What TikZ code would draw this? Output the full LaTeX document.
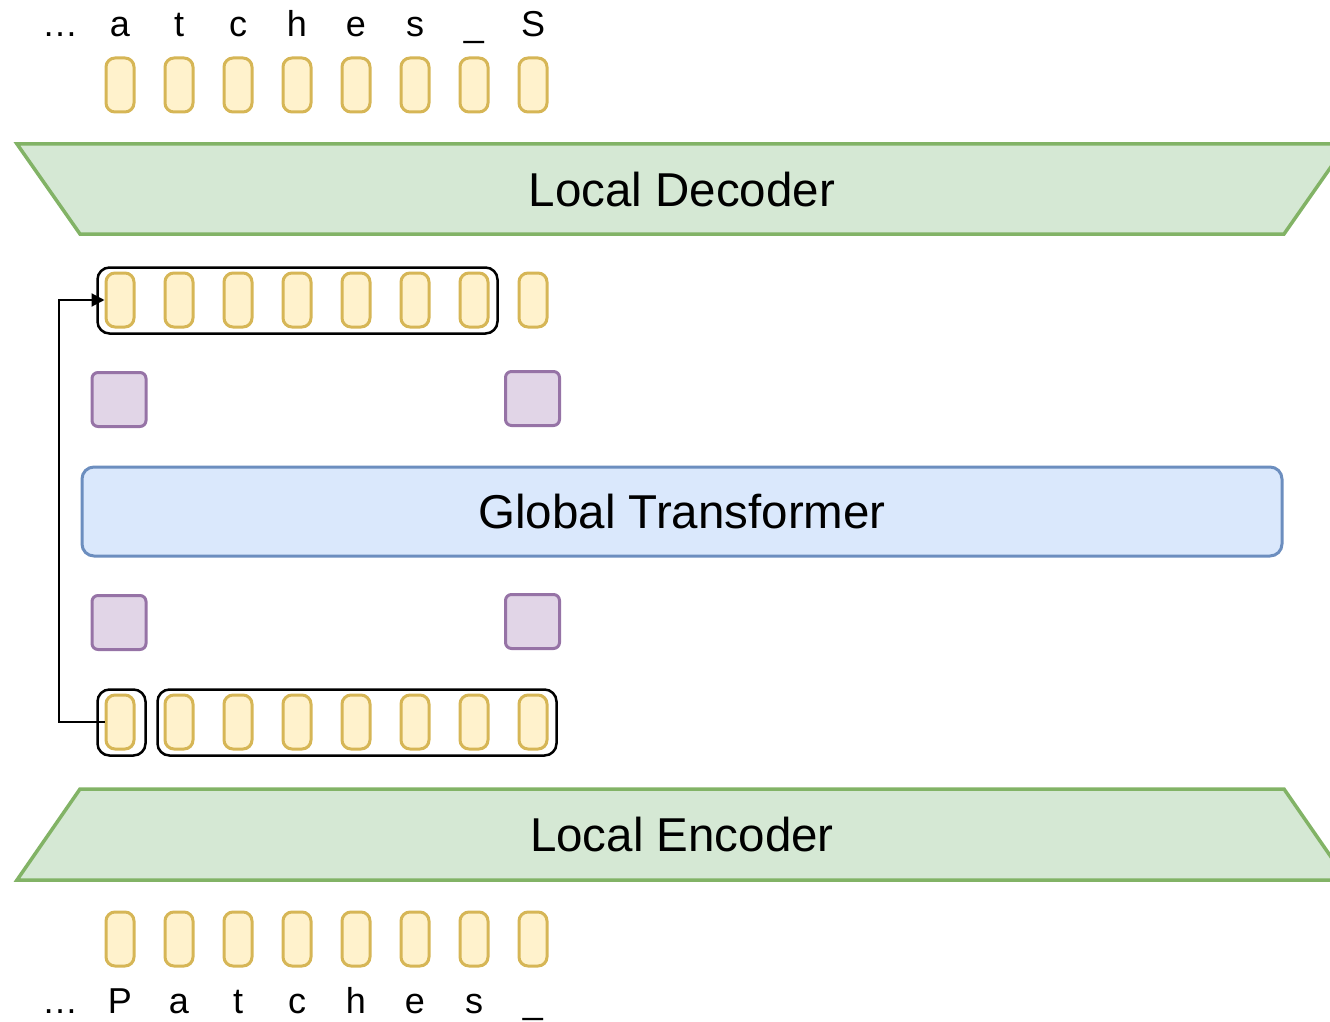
\documentclass[tikz,border=0pt]{standalone}
\usepackage{fontspec}
\setmainfont{Liberation Sans}
\usetikzlibrary{arrows.meta}
\definecolor{tokfill}{HTML}{FFF2CC}
\definecolor{tokdraw}{HTML}{D6B656}
\definecolor{grfill}{HTML}{D5E8D4}
\definecolor{grdraw}{HTML}{82B366}
\definecolor{blfill}{HTML}{DAE8FC}
\definecolor{bldraw}{HTML}{6C8EBF}
\definecolor{pufill}{HTML}{E1D5E7}
\definecolor{pudraw}{HTML}{9673A6}
\begin{document}
\begin{tikzpicture}[x=1pt,y=-1pt,
  token/.style={draw=tokdraw,fill=tokfill,line width=3pt,rounded corners=9pt,minimum width=28pt,minimum height=54pt,inner sep=0pt},
  patchemb/.style={draw=pudraw,fill=pufill,line width=3pt,rounded corners=6pt,minimum width=54pt,minimum height=54pt,inner sep=0pt},
  groupbox/.style={draw=black,line width=2.5pt,rounded corners=12pt,inner sep=0pt},
  letter/.style={font=\fontsize{36}{40}\selectfont,anchor=base,inner sep=0pt},
  big/.style={font=\fontsize{47.5}{56}\selectfont,inner sep=0pt},
  trap/.style={draw=grdraw,fill=grfill,line width=3.5pt,line join=miter},
  conn/.style={draw=black,line width=2pt,-{Triangle[length=13pt,width=13pt]}}]

\useasboundingbox (0,0) rectangle (1330,1022);
\clip (0,0) rectangle (1330,1022);

% Local Decoder
\draw[trap] (17,144) -- (1347,144) -- (1284,234) -- (80,234) -- cycle;
\node[big] (dec) at (682,190) {Local Decoder};

% Local Encoder
\draw[trap] (80,789) -- (1284,789) -- (1347,880) -- (17,880) -- cycle;
\node[big] (enc) at (682,835) {Local Encoder};

% Global Transformer
\node[draw=bldraw,fill=blfill,line width=3pt,rounded corners=12pt,minimum width=1200pt,minimum height=89pt,font=\fontsize{47.5}{56}\selectfont,inner sep=0pt] (glob) at (682,511.5) {Global Transformer};

% group boxes
\node[groupbox,minimum width=400pt,minimum height=66pt] (gtop) at (297.5,300.5) {};
\node[groupbox,minimum width=48pt,minimum height=66pt] (gbs) at (121.5,722.5) {};
\node[groupbox,minimum width=399pt,minimum height=66pt] (gbl) at (357,722.5) {};

% tokens
\foreach \k in {1,...,8}{
  \pgfmathsetmacro{\xx}{120+59*(\k-1)}
  \node[token] (t\k) at (\xx,85) {};
  \node[token] (m\k) at (\xx,300) {};
  \node[token] (b\k) at (\xx,722) {};
  \node[token] (e\k) at (\xx,939) {};
}

% patch embeddings
\node[patchemb] (p1) at (119,399.5) {};
\node[patchemb] (p2) at (532.5,398.5) {};
\node[patchemb] (p3) at (119,622.5) {};
\node[patchemb] (p4) at (532.5,621.5) {};

% top letters
\node[letter] (tl0) at (60,37) {…};
\node[letter] (tl1) at (120,37) {a};
\node[letter] (tl2) at (179,37) {t};
\node[letter] (tl3) at (238,37) {c};
\node[letter] (tl4) at (297,37) {h};
\node[letter] (tl5) at (356,37) {e};
\node[letter] (tl6) at (415,37) {s};
\node[letter] (tl7) at (474,37) {\_};
\node[letter] (tl8) at (533,37) {S};

% bottom letters
\node[letter] (bl0) at (60,1013) {…};
\node[letter] (bl1) at (120,1013) {P};
\node[letter] (bl2) at (179,1013) {a};
\node[letter] (bl3) at (238,1013) {t};
\node[letter] (bl4) at (297,1013) {c};
\node[letter] (bl5) at (356,1013) {h};
\node[letter] (bl6) at (415,1013) {e};
\node[letter] (bl7) at (474,1013) {s};
\node[letter] (bl8) at (533,1013) {\_};

% connector
\draw[conn] (b1.west) -- ++(-46,0) |- (m1.west);
\end{tikzpicture}
\end{document}
